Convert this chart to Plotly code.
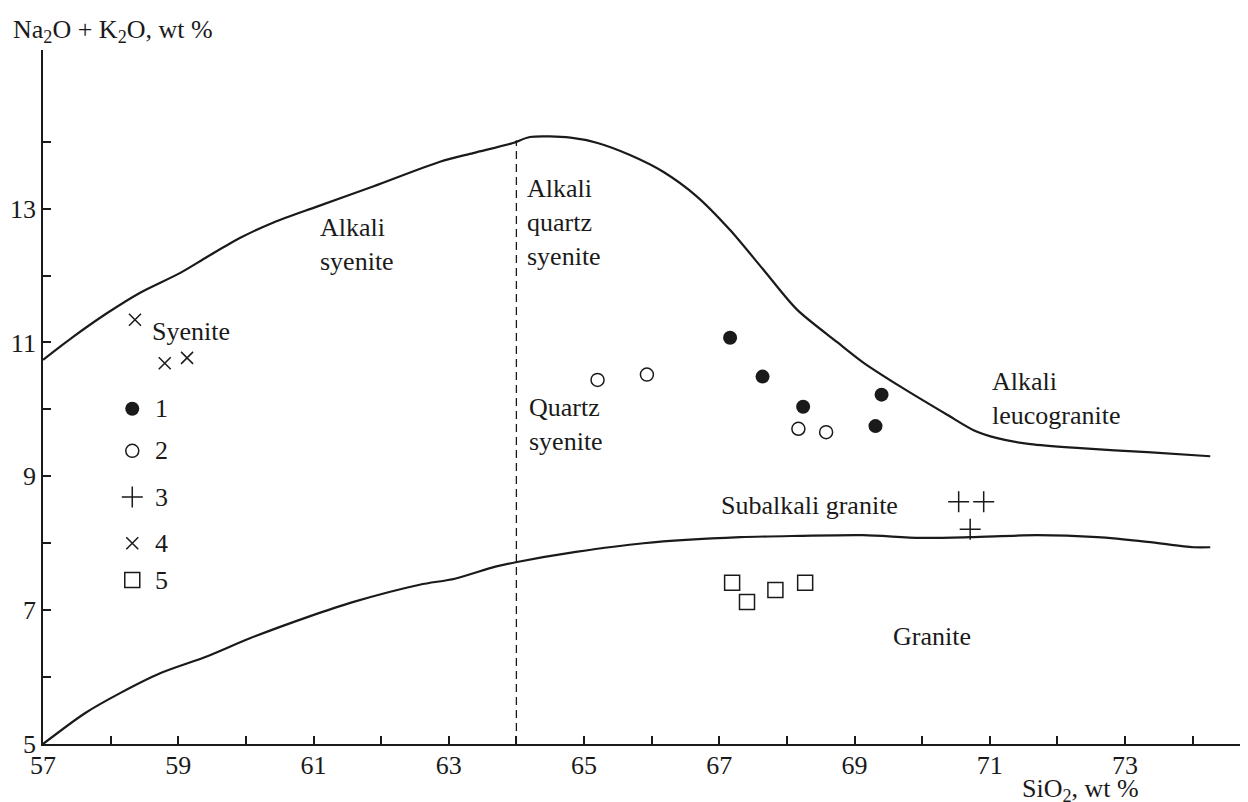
import plotly.graph_objects as go

# ---- boundary curves (SiO2, Na2O+K2O) ----
upper_x = [57.0, 57.44, 57.95, 58.43, 59.03, 59.43, 59.91, 60.40, 61.05, 61.88, 62.87, 63.36, 63.95,
           64.20, 64.80, 65.20, 65.68, 66.17, 66.67, 67.16, 67.65, 68.15, 68.75, 69.13, 69.68,
           70.37, 70.76, 71.11, 71.60, 72.34, 73.33, 74.26]
upper_y = [10.74, 11.08, 11.44, 11.74, 12.04, 12.28, 12.56, 12.79, 13.03, 13.33, 13.70, 13.83, 13.98,
           14.07, 14.06, 13.98, 13.80, 13.55, 13.18, 12.68, 12.09, 11.49, 11.00, 10.70, 10.34,
           9.92, 9.69, 9.57, 9.48, 9.42, 9.36, 9.30]

lower_x = [57.0, 57.62, 58.14, 58.74, 59.40, 60.06, 60.92, 61.58, 62.57, 63.09, 63.69, 64.01, 64.88,
           65.88, 67.31, 68.2, 69.13, 69.97, 70.71, 71.70, 72.59, 73.33, 74.01, 74.26]
lower_y = [5.0, 5.46, 5.76, 6.06, 6.30, 6.58, 6.90, 7.12, 7.38, 7.47, 7.65, 7.72, 7.87,
           8.00, 8.09, 8.11, 8.12, 8.08, 8.09, 8.12, 8.09, 8.02, 7.94, 7.94]

divider_x = [64.0, 64.0]
divider_y = [5.0, 14.02]

# ---- sample groups ----
g1_x = [67.16, 67.64, 68.24, 69.40, 69.31]
g1_y = [11.07, 10.49, 10.04, 10.22, 9.75]
g2_x = [65.20, 65.93, 68.17, 68.58]
g2_y = [10.44, 10.52, 9.71, 9.66]
g3_x = [70.54, 70.91, 70.71]
g3_y = [8.62, 8.62, 8.21]
g4_x = [58.36, 58.80, 59.13]
g4_y = [11.34, 10.69, 10.77]
g5_x = [67.19, 67.41, 67.83, 68.27]
g5_y = [7.41, 7.12, 7.30, 7.41]

legend_labels = ["1", "2", "3", "4", "5"]

x_ticks = list(range(57, 75))
y_ticks = list(range(5, 15))
x_ticktext = [str(v) if v % 2 == 1 else "" for v in x_ticks]
y_ticktext = [str(v) if v % 2 == 1 else "" for v in y_ticks]

field_names = [
    ("Syenite", 58.58, 11.16),
    ("Alkali<br>syenite", 61.07, 12.47),
    ("Alkali<br>quartz<br>syenite", 64.12, 12.79),
    ("Quartz<br>syenite", 64.16, 9.78),
    ("Alkali<br>leucogranite", 71.01, 10.17),
    ("Subalkali granite", 66.99, 8.57),
    ("Granite", 69.54, 6.60),
]

INK = "#1a1a1a"
FONT = "Liberation Serif, Times New Roman, Times, serif"
FS = 26

fig = go.Figure()

fig.add_trace(go.Scatter(x=upper_x, y=upper_y, mode="lines",
                         line=dict(color=INK, width=2.2, shape="spline", smoothing=0.8)))
fig.add_trace(go.Scatter(x=lower_x, y=lower_y, mode="lines",
                         line=dict(color=INK, width=2.2, shape="spline", smoothing=0.8)))
fig.add_trace(go.Scatter(x=divider_x, y=divider_y, mode="lines",
                         line=dict(color=INK, width=1.3, dash="8px,5px")))

styles = [
    dict(symbol="circle", size=14, color=INK, line=dict(width=0)),
    dict(symbol="circle-open", size=13, color=INK, line=dict(width=1.5)),
    dict(symbol="cross-thin-open", size=15, color=INK, line=dict(width=1.5)),
    dict(symbol="x-thin-open", size=12, color=INK, line=dict(width=1.5)),
    dict(symbol="square-open", size=15, color=INK, line=dict(width=1.5)),
]
groups = [(g1_x, g1_y), (g2_x, g2_y), (g3_x, g3_y), (g4_x, g4_y), (g5_x, g5_y)]
for (gx, gy), st in zip(groups, styles):
    fig.add_trace(go.Scatter(x=gx, y=gy, mode="markers", marker=st))

# manual legend (positions are layout constants)
leg_sym_x = 58.32
leg_txt_x = 58.62
leg_rows_y = [10.01, 9.38, 8.69, 8.00, 7.45]
for lab, ly, st in zip(legend_labels, leg_rows_y, styles):
    fig.add_trace(go.Scatter(x=[leg_sym_x], y=[ly], mode="markers", marker=st))
    fig.add_annotation(x=leg_txt_x, y=ly, text=lab, showarrow=False, xanchor="left",
                       yanchor="middle", font=dict(family=FONT, size=FS, color=INK))

for txt, tx, ty in field_names:
    fig.add_annotation(x=tx, y=ty, text=txt, showarrow=False, xanchor="left", yanchor="middle",
                       align="left", font=dict(family=FONT, size=FS, color=INK))

# axis titles
fig.add_annotation(xref="paper", yref="paper", x=-0.027, y=1.028,
                   text="Na<sub>2</sub>O + K<sub>2</sub>O, wt %", showarrow=False,
                   xanchor="left", yanchor="middle", font=dict(family=FONT, size=FS, color=INK))
fig.add_annotation(xref="paper", yref="paper", x=0.816, y=-0.066,
                   text="SiO<sub>2</sub>, wt %", showarrow=False,
                   xanchor="left", yanchor="middle", font=dict(family=FONT, size=FS, color=INK))

fig.update_layout(
    width=1248, height=802,
    margin=dict(l=43, r=8, t=50, b=58),
    plot_bgcolor="white", paper_bgcolor="white",
    showlegend=False,
    font=dict(family=FONT, size=FS, color=INK),
)
fig.update_xaxes(range=[57, 74.7], tickvals=x_ticks, ticktext=x_ticktext, ticks="inside",
                 ticklen=8, tickwidth=1.5, tickcolor=INK, showline=True, linewidth=1.8,
                 linecolor=INK, showgrid=False, zeroline=False, ticklabelstandoff=-3,
                 tickfont=dict(family=FONT, size=FS, color=INK))
fig.update_yaxes(range=[5, 15.37], tickvals=y_ticks, ticktext=y_ticktext, ticks="inside",
                 ticklen=8, tickwidth=1.5, tickcolor=INK, showline=True, linewidth=1.8,
                 linecolor=INK, showgrid=False, zeroline=False,
                 tickfont=dict(family=FONT, size=FS, color=INK))

fig.write_html("out.html")
